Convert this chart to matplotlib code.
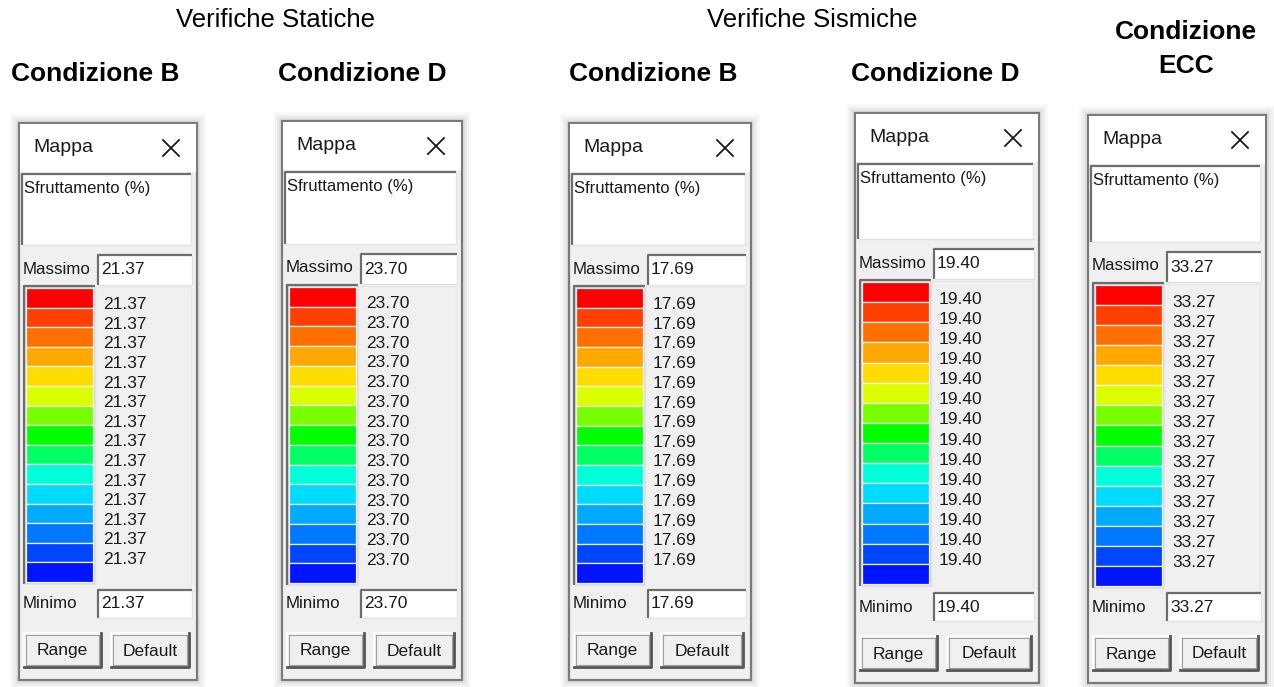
import matplotlib.pyplot as plt
from matplotlib.patches import Rectangle

# Chart content
group_titles = ['Verifiche Statiche', 'Verifiche Sismiche']
condition_titles = ['Condizione B', 'Condizione D', 'Condizione B', 'Condizione D', 'Condizione\nECC']
max_values = [21.37, 23.70, 17.69, 19.40, 33.27]
min_values = [21.37, 23.70, 17.69, 19.40, 33.27]
n_levels = 14
band_colors = ['#ff0000', '#ff4000', '#ff7000', '#ffa800', '#ffdc00',
               '#dcff00', '#78ff00', '#00ff00', '#00ff64', '#00ffd8',
               '#00dcff', '#00aaff', '#0078ff', '#0046ff', '#0014ff']

# panel layout in pixels: left, right, top, bottom, colorbar top, colorbar bottom
panels = [(19, 197, 123, 680, 288, 582),
          (282, 462, 121, 680, 287, 583),
          (569, 751, 123, 680, 288, 583),
          (855, 1039, 113, 683, 282, 584),
          (1088, 1266, 115, 683, 285, 586)]
group_x = [275, 812]
cond_pos = [(95, 74), (362, 74), (653, 74), (935, 74), (1186, 49)]

W, H = 1274, 687
fig = plt.figure(figsize=(W / 100, H / 100), dpi=100)
ax = fig.add_axes([0, 0, 1, 1])
ax.set_xlim(0, W)
ax.set_ylim(H, 0)
ax.axis('off')

ui_font = 'Liberation Sans'
dark = '#1a1a1a'


def rect(x0, y0, x1, y1, **kw):
    ax.add_patch(Rectangle((x0, y0), x1 - x0, y1 - y0, **kw))


def sunken(x0, y0, x1, y1, face='white'):
    rect(x0, y0, x1, y1, facecolor=face, edgecolor='none')
    ax.plot([x0, x0, x1], [y1, y0, y0], color='#6d6d6d', lw=1.6, solid_capstyle='butt')
    ax.plot([x0, x1, x1], [y1, y1, y0], color='#e3e3e3', lw=1.0, solid_capstyle='butt')


def button(x0, y0, x1, y1, label):
    rect(x0, y0, x1, y1, facecolor='#f0f0f0', edgecolor='none')
    ax.plot([x0, x0, x1], [y1, y0, y0], color='#ffffff', lw=1.2)
    ax.plot([x0, x1, x1], [y1, y1, y0], color='#555555', lw=2.0)
    ax.plot([x0 + 2, x0 + 2, x1 - 2, x1 - 2, x0 + 2], [y0 + 2, y1 - 2, y1 - 2, y0 + 2, y0 + 2],
            color='#a0a0a0', lw=0.8)
    ax.text((x0 + x1) / 2, (y0 + y1) / 2 + 1, label, ha='center', va='center',
            fontsize=12.5, family=ui_font, color=dark)


for k, (l, r, t, b, ct, cb) in enumerate(panels):
    # soft shadow around the dialog
    for d, a in zip([9, 7, 5, 3], [0.06, 0.07, 0.09, 0.12]):
        rect(l - d, t - d, r + d, b + d, facecolor='#9a9a9a', edgecolor='none', alpha=a)
    rect(l, t, r, b, facecolor='#f0f0f0', edgecolor='#7a7a7a', lw=1.6)
    # title area
    rect(l + 1, t + 1, r - 1, t + 49, facecolor='white', edgecolor='none')
    ax.text(l + 14, t + 25, 'Mappa', ha='left', va='center', fontsize=14,
            family=ui_font, color=dark)
    cx, cy = r - 26, t + 25
    ax.plot([cx - 8, cx + 8], [cy - 8, cy + 8], color=dark, lw=1.3)
    ax.plot([cx - 8, cx + 8], [cy + 8, cy - 8], color=dark, lw=1.3)
    # description box
    sunken(l + 3, t + 51, r - 6, ct - 43)
    ax.text(l + 5, t + 65, 'Sfruttamento (%)', ha='left', va='center', fontsize=12,
            family=ui_font, color=dark)
    # maximum
    ax.text(l + 4, ct - 19, 'Massimo', ha='left', va='center', fontsize=12.2,
            family=ui_font, color=dark)
    sunken(l + 79, ct - 33, r - 5, ct - 3)
    ax.text(l + 82, ct - 18, f'{max_values[k]:.2f}', ha='left', va='center',
            fontsize=12.5, family=ui_font, color=dark)
    # label area frame
    ax.plot([l + 76, r - 6, r - 6], [ct - 1, ct - 1, cb + 3], color='#e8e8e8', lw=1.0)
    # colour bands
    x0, x1 = l + 7, l + 74
    sunken(x0 - 2, ct - 2, x1 + 2, cb + 2, face='#d8d8d8')
    band = (cb - ct) / len(band_colors)
    for i, c in enumerate(band_colors):
        rect(x0, ct + i * band, x1, ct + (i + 1) * band, facecolor=c,
             edgecolor='#f4f4f4', lw=0.9)
    for i in range(n_levels):
        val = max_values[k] - (max_values[k] - min_values[k]) * i / (n_levels - 1)
        ax.text(l + 84, ct + (i + 1) * band - 3, f'{val:.2f}', ha='left', va='center',
                fontsize=12.5, family=ui_font, color=dark)
    # minimum
    ax.text(l + 4, b - 76, 'Minimo', ha='left', va='center', fontsize=12.2,
            family=ui_font, color=dark)
    sunken(l + 79, b - 90, r - 5, b - 62)
    ax.text(l + 82, b - 76, f'{min_values[k]:.2f}', ha='left', va='center',
            fontsize=12.5, family=ui_font, color=dark)
    # buttons
    button(l + 5, b - 47, l + 82, b - 13, 'Range')
    button(l + 92, b - 47, r - 8, b - 13, 'Default')

for x, txt in zip(group_x, group_titles):
    ax.text(x, 20, txt, ha='center', va='center', fontsize=18.5, family='Liberation Sans',
            color='black')

for (x, y), txt in zip(cond_pos, condition_titles):
    ax.text(x, y, txt, ha='center', va='center', fontsize=19, fontweight='bold',
            family='Liberation Sans', color='black', linespacing=1.55)

fig.savefig('out.png', dpi=100)
